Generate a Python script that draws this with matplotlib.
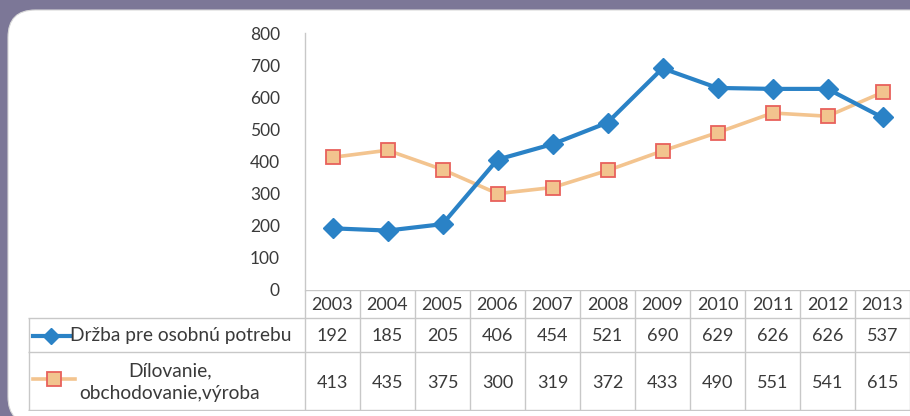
import matplotlib
matplotlib.use("Agg")
import matplotlib.pyplot as plt
from matplotlib.patches import FancyBboxPatch
from matplotlib.lines import Line2D

years = ["2003", "2004", "2005", "2006", "2007", "2008", "2009", "2010", "2011", "2012", "2013"]
drzba = [192, 185, 205, 406, 454, 521, 690, 629, 626, 626, 537]
dilovanie = [413, 435, 375, 300, 319, 372, 433, 490, 551, 541, 615]
series_names = ["Držba pre osobnú potrebu", "Dílovanie,\nobchodovanie,výroba"]
yticks = [0, 100, 200, 300, 400, 500, 600, 700, 800]

plt.rcParams['font.family'] = ['Lato', 'DejaVu Sans']

W, H = 910, 416
fig = plt.figure(figsize=(W / 100, H / 100), dpi=100)
fig.patch.set_facecolor("#7c7797")

def fx(px):
    return px / W

def fy(py):
    return 1 - py / H

# white rounded panel
panel = FancyBboxPatch((fx(8), fy(424)), fx(940) - fx(8), fy(10) - fy(424),
                       boxstyle="round,pad=0,rounding_size=0.03",
                       transform=fig.transFigure, facecolor="white",
                       edgecolor="#d8d8d8", linewidth=0.8, zorder=-10,
                       mutation_aspect=W / H)
fig.patches.append(panel)

blue = "#2a82c6"
orange_line = "#f3c48f"
orange_face = "#f2c48e"
orange_edge = "#e8615c"
grid_col = "#c8c8c8"
text_col = "#3a3a3a"

# plot axes
x0, x1 = 305, 910
ytop, ybot = 33, 290
ax = fig.add_axes([fx(x0), fy(ybot), fx(x1) - fx(x0), fy(ytop) - fy(ybot)])
ax.set_facecolor("none")
xs = list(range(len(years)))
ax.plot(xs, drzba, color=blue, lw=3, marker="D", ms=10, mfc=blue, mec=blue, zorder=3, clip_on=False)
ax.plot(xs, dilovanie, color=orange_line, lw=2.6, marker="s", ms=10, mfc=orange_face,
        mec=orange_edge, mew=1.3, zorder=2, clip_on=False)
ax.set_xlim(-0.5, len(years) - 0.5)
ax.set_ylim(0, 800)
ax.set_yticks(yticks)
ax.set_yticklabels([str(v) for v in yticks], fontsize=12.5, color=text_col)
ax.tick_params(axis="y", length=0, pad=18)
ax.set_xticks([])
for s in ["top", "right", "bottom"]:
    ax.spines[s].set_visible(False)
ax.spines["left"].set_color(grid_col)
ax.spines["left"].set_linewidth(1)

# table axes
tl, tr = 28, 910
ttop, tbot = 290, 411
col_w = (x1 - x0) / len(years)
label_units = (x0 - tl) / col_w
tax = fig.add_axes([fx(tl), fy(tbot), fx(tr) - fx(tl), fy(ttop) - fy(tbot)])
tax.set_facecolor("none")
tax.set_xlim(-0.5 - label_units, len(years) - 0.5)
r_head, r1, r2 = 28, 62, 121
tax.set_ylim(tbot - ttop, 0)
tax.axis("off")

lkw = dict(color=grid_col, lw=1, solid_capstyle="butt")
tax.plot([-0.5, len(years) - 0.5], [0, 0], **lkw)
tax.plot([-0.5 - label_units, len(years) - 0.5], [r_head, r_head], **lkw)
tax.plot([-0.5 - label_units, len(years) - 0.5], [r1, r1], **lkw)
tax.plot([-0.5 - label_units, len(years) - 0.5], [r2 - 1, r2 - 1], **lkw)
tax.plot([-0.5 - label_units + 0.01, -0.5 - label_units + 0.01], [r_head, r2 - 1], **lkw)
for i in range(len(years) + 1):
    tax.plot([i - 0.5, i - 0.5], [0, r2 - 1], **lkw)

fs = 13
for i, yr in enumerate(years):
    tax.text(i, r_head / 2 + 1, yr, ha="center", va="center", fontsize=fs, color=text_col)
    tax.text(i, (r_head + r1) / 2 + 1, str(drzba[i]), ha="center", va="center", fontsize=fs, color=text_col)
    tax.text(i, (r1 + r2) / 2 + 1, str(dilovanie[i]), ha="center", va="center", fontsize=fs, color=text_col)

unit_px = col_w
def ux(px):
    return -0.5 - label_units + (px - tl) / unit_px

ym1 = (r_head + r1) / 2 + 1
tax.add_line(Line2D([ux(33), ux(70)], [ym1, ym1], color=blue, lw=3))
tax.plot([ux(51.5)], [ym1], marker="D", ms=8, color=blue)
tax.text(ux(70), ym1, series_names[0], ha="left", va="center", fontsize=13.8, color=text_col)

ym2 = (r1 + r2) / 2 - 3
tax.add_line(Line2D([ux(33), ux(75)], [ym2, ym2], color=orange_line, lw=2.6))
tax.plot([ux(54)], [ym2], marker="s", ms=10, mfc=orange_face, mec=orange_edge, mew=1.3)
tax.text(ux(170), (r1 + r2) / 2 + 1, series_names[1], ha="center", va="center",
         fontsize=13.8, color=text_col, linespacing=1.4)

fig.savefig("out.png", dpi=100, facecolor=fig.get_facecolor())
